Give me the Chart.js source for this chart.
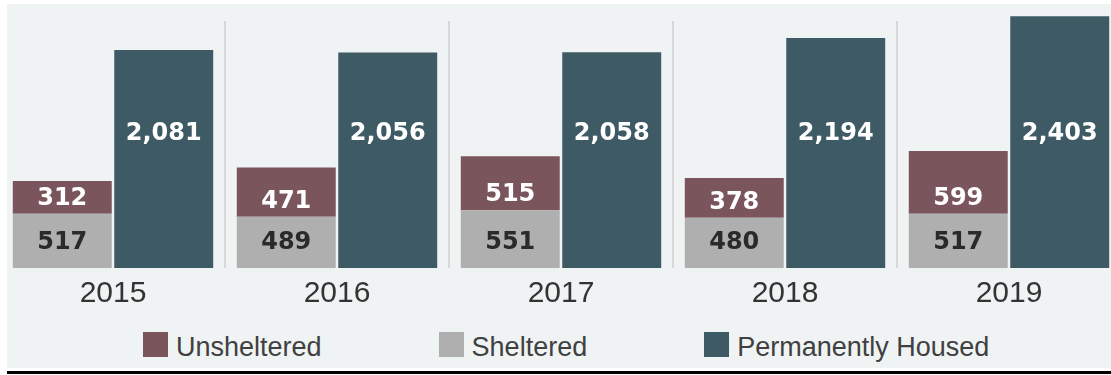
<!DOCTYPE html>
<html>
<head>
<meta charset="utf-8">
<script src="https://cdn.jsdelivr.net/npm/chart.js@4/dist/chart.umd.min.js"></script>
<style>
  html, body { margin: 0; padding: 0; background: #ffffff; overflow: hidden; width: 1111px; height: 375px; }
  #panel { position: absolute; left: 7px; top: 4px; width: 1104px; height: 364px; background: #eff3f4; }
  #rule { position: absolute; left: 7px; top: 371px; width: 1104px; height: 3px; background: #000000; }
  #wrap { position: absolute; left: 0; top: 0; width: 1122px; height: 320px; }
  #legend { position: absolute; left: 143px; top: 332px; display: flex; gap: 117px;
            font-family: "Liberation Sans", Arial, sans-serif; font-size: 27px; color: #404040; }
  .item { display: flex; align-items: flex-start; }
  .box { width: 25px; height: 25px; margin-right: 8px; }
  .txt { line-height: 25px; position: relative; top: 3px; white-space: nowrap; }
</style>
</head>
<body>
<div id="panel"></div>
<div id="wrap"><canvas id="c" width="1122" height="320"></canvas></div>
<div id="legend"></div>
<div id="rule"></div>
<script>
// Point-in-time counts by year
const years = ['2015', '2016', '2017', '2018', '2019'];
const sheltered = [517, 489, 551, 480, 517];
const unsheltered = [312, 471, 515, 378, 599];
const permanentlyHoused = [2081, 2056, 2058, 2194, 2403];

const COLORS = {
  unsheltered: '#7b555c',
  sheltered: '#afafaf',
  housed: '#3e5b65'
};

// Value level at which the housed-bar labels sit
const housedLabelLevel = 1300;

const fmt = v => v.toLocaleString('en-US');

// Thin vertical dividers between year groups
const dividers = {
  id: 'dividers',
  beforeDatasetsDraw(chart) {
    const { ctx, chartArea, scales: { x } } = chart;
    const step = x.getPixelForValue(1) - x.getPixelForValue(0);
    ctx.save();
    ctx.strokeStyle = '#d8d8d8';
    ctx.lineWidth = 2;
    for (let i = 0; i < years.length - 1; i++) {
      const px = x.getPixelForValue(i) + step / 2;
      ctx.beginPath();
      ctx.moveTo(px, chartArea.top + 15);
      ctx.lineTo(px, chartArea.bottom);
      ctx.stroke();
    }
    ctx.restore();
  }
};

// Value labels drawn inside the bars
const valueLabels = {
  id: 'valueLabels',
  afterDatasetsDraw(chart) {
    const { ctx, scales: { y } } = chart;
    const nudge = 2.5; // optical centering of the digits
    ctx.save();
    ctx.font = 'bold 24px "DejaVu Sans", sans-serif';
    ctx.textAlign = 'center';
    ctx.textBaseline = 'middle';
    chart.data.datasets.forEach((ds, di) => {
      const meta = chart.getDatasetMeta(di);
      meta.data.forEach((bar, i) => {
        const v = ds.data[i];
        let yy;
        if (ds.key === 'sheltered') {
          yy = bar.base - 28;
          ctx.fillStyle = '#2a2a2a';
        } else if (ds.key === 'unsheltered') {
          yy = bar.base - 17.5;
          ctx.fillStyle = '#ffffff';
        } else {
          yy = y.getPixelForValue(housedLabelLevel);
          ctx.fillStyle = '#ffffff';
        }
        ctx.fillText(fmt(v), bar.x, yy + nudge);
      });
    });
    ctx.restore();
  }
};

const datasets = [
  { key: 'sheltered', label: 'Sheltered', data: sheltered, backgroundColor: COLORS.sheltered, stack: 'pit' },
  { key: 'unsheltered', label: 'Unsheltered', data: unsheltered, backgroundColor: COLORS.unsheltered, stack: 'pit' },
  { key: 'housed', label: 'Permanently Housed', data: permanentlyHoused, backgroundColor: COLORS.housed, stack: 'ph' }
];

new Chart(document.getElementById('c'), {
  type: 'bar',
  data: { labels: years, datasets },
  options: {
    responsive: false,
    animation: false,
    devicePixelRatio: 1,
    layout: { padding: { left: 1, right: 1, top: 6, bottom: 0 } },
    datasets: { bar: { barPercentage: 0.975, categoryPercentage: 0.906, borderWidth: 0 } },
    plugins: { legend: { display: false }, tooltip: { enabled: false } },
    scales: {
      x: {
        stacked: true,
        grid: { display: false, drawTicks: false },
        border: { display: false },
        ticks: {
          padding: 8,
          color: '#333333',
          font: { family: '"Liberation Sans", Arial, sans-serif', size: 30 }
        }
      },
      y: { stacked: true, display: false, min: 0, max: 2500 }
    }
  },
  plugins: [dividers, valueLabels]
});

// Legend in display order
const legendItems = [
  { label: 'Unsheltered', color: COLORS.unsheltered },
  { label: 'Sheltered', color: COLORS.sheltered },
  { label: 'Permanently Housed', color: COLORS.housed }
];
const legendEl = document.getElementById('legend');
legendItems.forEach(it => {
  const item = document.createElement('div');
  item.className = 'item';
  const box = document.createElement('span');
  box.className = 'box';
  box.style.background = it.color;
  const txt = document.createElement('span');
  txt.className = 'txt';
  txt.textContent = it.label;
  item.appendChild(box);
  item.appendChild(txt);
  legendEl.appendChild(item);
});
</script>
</body>
</html>
